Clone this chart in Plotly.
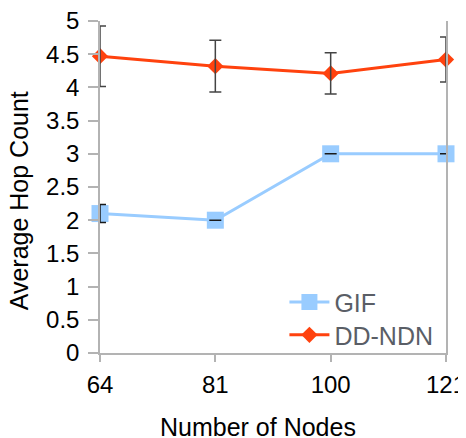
import plotly.graph_objects as go

categories = ["64", "81", "100", "121"]
gif_values = [2.1, 2.0, 3.0, 3.0]
gif_errors = [0.135, 0.0, 0.0, 0.0]
ddndn_values = [4.47, 4.32, 4.21, 4.42]
ddndn_errors = [0.455, 0.39, 0.31, 0.34]
y_ticks = [0, 0.5, 1, 1.5, 2, 2.5, 3, 3.5, 4, 4.5, 5]
y_ticklabels = ["0", "0.5", "1", "1.5", "2", "2.5", "3", "3.5", "4", "4.5", "5"]

FONT = "Liberation Sans, Arial, sans-serif"
GIF_COLOR = "#99ccff"
DD_COLOR = "#ff420e"
AXIS_COLOR = "#b3b3b3"

fig = go.Figure()
fig.add_trace(go.Scatter(
    x=categories, y=gif_values, name="GIF", mode="lines+markers",
    line=dict(color=GIF_COLOR, width=3),
    marker=dict(symbol="square", size=17, color=GIF_COLOR),
    cliponaxis=False, legend="legend",
))
fig.add_trace(go.Scatter(
    x=categories, y=ddndn_values, name="DD-NDN", mode="lines+markers",
    line=dict(color=DD_COLOR, width=3),
    marker=dict(symbol="diamond", size=12.5, color=DD_COLOR),
    cliponaxis=False, legend="legend2",
))
# error bars drawn on top of markers
fig.add_trace(go.Scatter(
    x=categories, y=gif_values, mode="markers", showlegend=False, hoverinfo="skip",
    marker=dict(size=1, opacity=0),
    error_y=dict(type="data", array=gif_errors, visible=True, color="#1a1a1a", thickness=1.5, width=6),
    cliponaxis=False,
))
fig.add_trace(go.Scatter(
    x=categories, y=ddndn_values, mode="markers", showlegend=False, hoverinfo="skip",
    marker=dict(size=1, opacity=0),
    error_y=dict(type="data", array=ddndn_errors, visible=True, color="#444444", thickness=1.5, width=6),
    cliponaxis=False,
))

legend_style = dict(
    xanchor="left", yanchor="middle",
    bgcolor="rgba(0,0,0,0)",
    font=dict(size=25, color="#5a5e66", family=FONT),
    itemwidth=40,
)

fig.update_layout(
    width=466, height=430, autosize=False,
    margin=dict(l=92, r=28, t=12.5, b=85, pad=0, autoexpand=False),
    paper_bgcolor="white", plot_bgcolor="white",
    font=dict(family=FONT, size=24, color="#000000"),
    showlegend=True,
    legend=dict(x=0.533, y=0.153, **legend_style),
    legend2=dict(x=0.533, y=0.054, **legend_style),
    xaxis=dict(
        type="category", range=[0, 3], automargin=False,
        showgrid=False, zeroline=False,
        showline=True, linecolor=AXIS_COLOR, linewidth=1.5,
        ticks="outside", ticklen=7, tickcolor=AXIS_COLOR, tickwidth=1.5,
        ticklabelstandoff=2, ticklabeloverflow="allow",
        tickfont=dict(size=24, color="#000000"),
    ),
    yaxis=dict(
        range=[0, 5], tickvals=y_ticks, ticktext=y_ticklabels, automargin=False,
        showgrid=False, zeroline=False,
        showline=True, mirror=True, linecolor=AXIS_COLOR, linewidth=1.5,
        ticks="outside", ticklen=10, tickcolor=AXIS_COLOR, tickwidth=1.5,
        ticklabelstandoff=4, ticklabeloverflow="allow",
        tickfont=dict(size=24, color="#000000"),
    ),
    annotations=[
        dict(text="Number of Nodes", xref="paper", yref="paper",
             x=0.457, y=-0.224, xanchor="center", yanchor="middle",
             showarrow=False, font=dict(size=25, color="#000000")),
        dict(text="Average Hop Count", xref="paper", yref="paper",
             x=-0.234, y=0.457, xanchor="center", yanchor="middle", textangle=-90,
             showarrow=False, font=dict(size=25, color="#000000")),
    ],
)

fig.write_html("out.html")
